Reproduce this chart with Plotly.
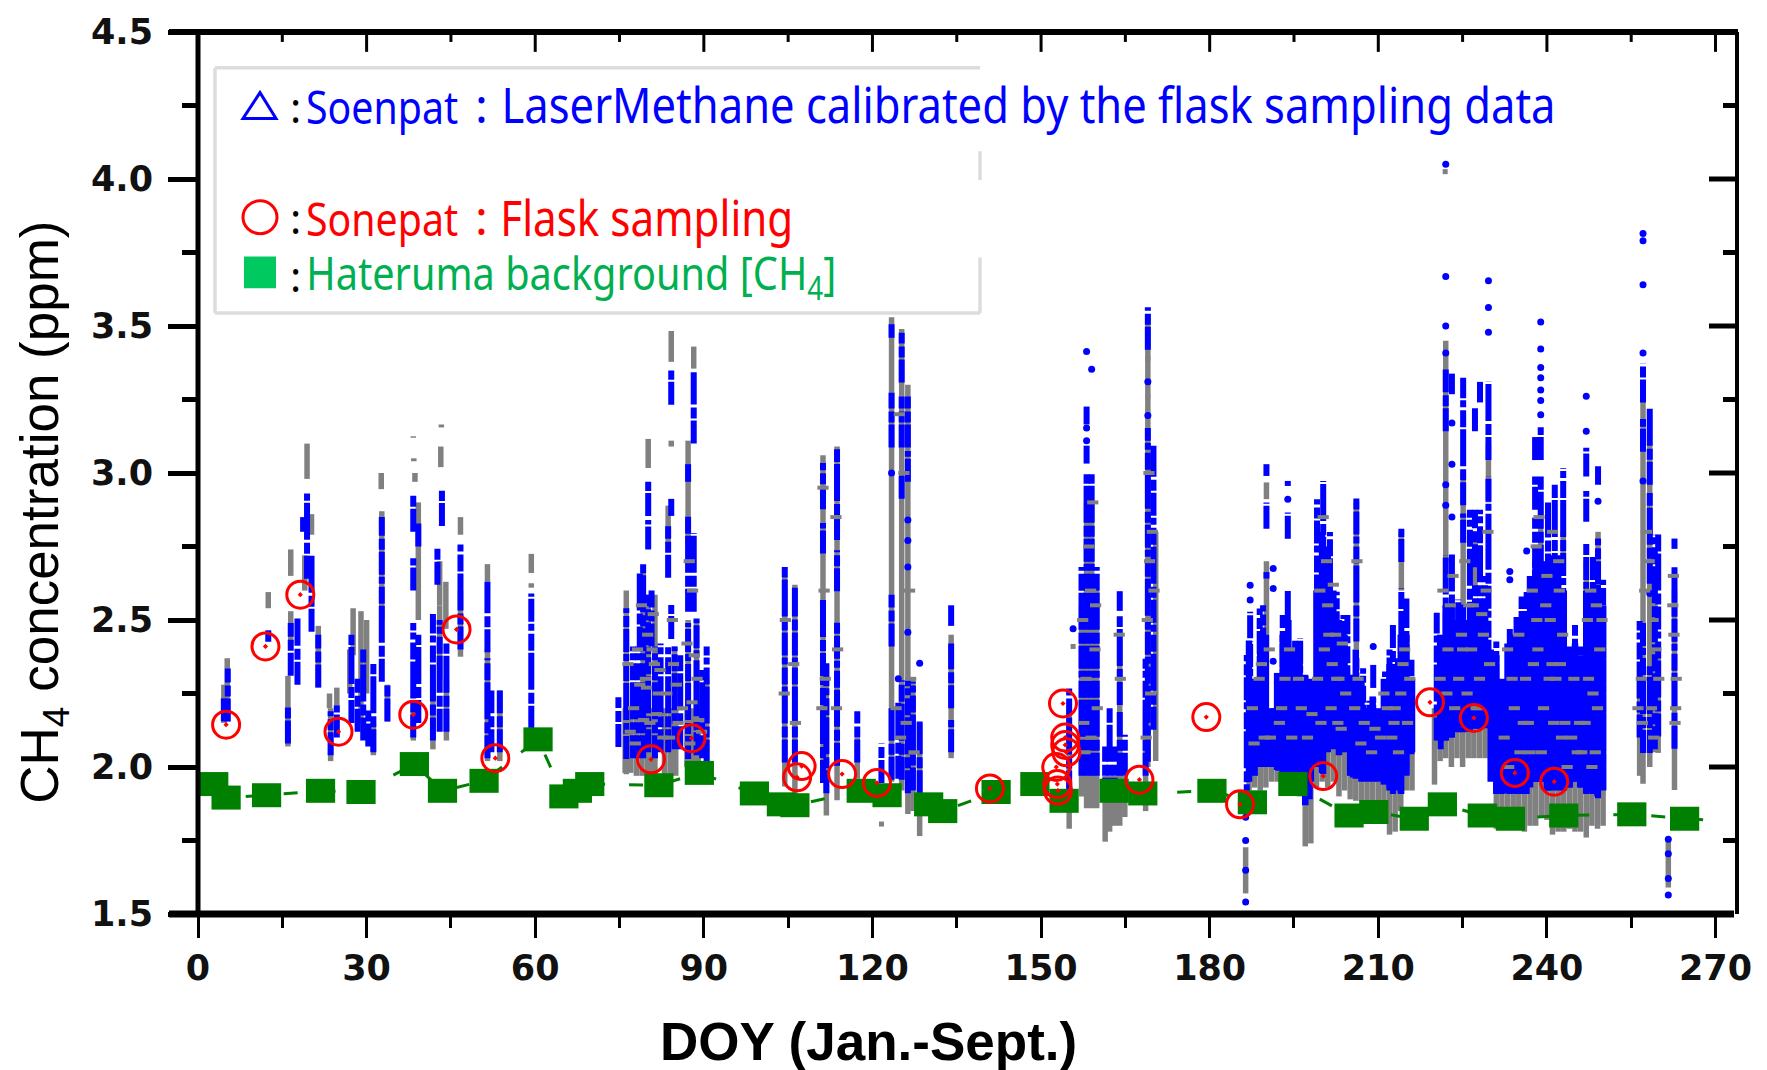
import plotly.graph_objects as go

# ---------- values ----------
x_major = [0, 30, 60, 90, 120, 150, 180, 210, 240, 270]
x_minor = [15, 45, 75, 105, 135, 165, 195, 225, 255]
y_major = [1.5, 2.0, 2.5, 3.0, 3.5, 4.0, 4.5]
y_labels = ["1.5", "2.0", "2.5", "3.0", "3.5", "4.0", "4.5"]
y_minor = [1.75, 2.25, 2.75, 3.25, 3.75, 4.25]

hateruma_day = [2.8, 5, 12.2, 21.8, 29, 38.5, 43.5, 50.9, 60.5, 65.1, 67.5, 69.7, 82, 89.2, 99, 103.8, 106.2, 118, 122.6,
                130, 132.5, 142, 148.9, 154.1, 163, 168.1, 180.4, 187.6, 194.8, 204.8, 209.2, 216.4, 221.4, 228.5,
                233.5, 243, 255.1, 264.5]
hateruma_ch4 = [1.942, 1.896, 1.904, 1.919, 1.915, 2.01, 1.919, 1.953, 2.094, 1.90, 1.919, 1.942, 1.938, 1.98, 1.91, 1.873,
                1.87, 1.919, 1.904, 1.873, 1.85, 1.915, 1.942, 1.885, 1.919, 1.91, 1.919, 1.88, 1.942, 1.835, 1.847,
                1.824, 1.873, 1.835, 1.824, 1.835, 1.839, 1.824]
hateruma_end_day = [270.7]
hateruma_end_ch4 = [1.816]

flask_day = [5, 12, 18.2, 25, 38.3, 46, 52.9, 80.6, 87.8, 106.6, 107.4, 114.6, 120.8, 140.9, 153.9, 154.3, 154.3, 154.5,
             152.7, 152.9, 153, 167.5, 179.4, 185.4, 200.2, 219.2, 227, 234.3, 241.3]
flask_ch4 = [2.144, 2.41, 2.586, 2.12, 2.178, 2.468, 2.03, 2.026, 2.098, 1.965, 2.003, 1.976, 1.946, 1.927, 2.216, 2.10,
             2.075, 2.05, 2.0, 1.942, 1.92, 1.957, 2.17, 1.873, 1.969, 2.22, 2.167, 1.98, 1.95]

# LaserMethane columns: (day, low, high)
blue_columns = [
    (5.3, 2.155, 2.335), (4.6, 2.155, 2.24), (12.5, 2.426, 2.465), (16, 2.08, 2.21), (16.5, 2.31, 2.49), (17.7, 2.28, 2.505),
    (19.4, 2.64, 2.93), (18.7, 2.80, 2.85), (20.2, 2.46, 2.72), (21.4, 2.27, 2.45), (23.6, 2.04, 2.19), (24.7, 2.10, 2.21),
    (27.3, 2.15, 2.45), (28.4, 2.12, 2.30), (29.4, 2.09, 2.40), (30.3, 2.07, 2.20), (31.2, 2.05, 2.35),
    (32.7, 2.29, 2.85), (33.7, 2.155, 2.28), (38.3, 2.80, 2.93), (38.3, 2.6, 2.71), (38.3, 2.10, 2.49), (39.2, 2.75, 2.83),
    (39.2, 2.15, 2.45), (41.8, 2.09, 2.52), (43, 2.12, 2.50), (44.2, 2.12, 2.42), (42.6, 2.62, 2.75), (43.4, 2.82, 2.94),
    (46.7, 2.40, 2.76), (51.5, 2.39, 2.63), (51.5, 2.03, 2.37), (52.2, 2.05, 2.26), (53.7, 2.05, 2.26), (59.3, 2.13, 2.59),
    (74.8, 2.068, 2.237), (76.2, 2.027, 2.54), (77.4, 2.03, 2.41), (78.3, 2.03, 2.41), (78.6, 2.4, 2.66), (79.2, 2.03, 2.69),
    (80.1, 2.854, 2.97), (80.1, 2.74, 2.84), (80.1, 2.05, 2.586), (80.7, 2.41, 2.6), (81.3, 2.03, 2.41), (82.3, 2.05, 2.42),
    (83.65, 2.644, 2.819), (83.65, 2.05, 2.41), (84.2, 3.232, 3.349), (84.2, 2.854, 2.912), (84.2, 2.435, 2.551), (84.8, 2.06, 2.41),
    (85.8, 2.06, 2.38), (87.2, 2.97, 3.03), (87.2, 2.528, 2.854), (87.2, 2.027, 2.49), (88.2, 3.10, 3.343), (88.2, 2.528, 2.796),
    (88.7, 2.04, 2.505), (89.7, 2.03, 2.33), (90.5, 2.015, 2.41),
    (104.4, 2.015, 2.68), (106.2, 2.015, 2.61), (111.2, 2.877, 3.034), (111.2, 2.726, 2.83), (111.2, 1.946, 2.574),
    (111.8, 1.911, 2.353), (113.7, 2.772, 3.081), (113.7, 2.598, 2.737), (113.7, 2.004, 2.493), (117.3, 2.015, 2.19),
    (121.6, 1.946, 2.08), (123.4, 3.46, 3.506), (123.4, 3.087, 3.273), (123.4, 2.41, 2.586), (123.4, 1.957, 2.2),
    (124.6, 1.96, 2.22), (125.2, 3.308, 3.477), (125.2, 3.087, 3.26), (125.2, 2.912, 3.0), (125.2, 1.957, 2.295), (126.3, 2.97, 3.075),
    (126.3, 3.087, 3.26), (126.3, 1.911, 2.295), (127.2, 1.92, 2.29), (128.4, 1.911, 2.155), (134, 2.48, 2.55), (134, 2.2, 2.42), (134, 2.05, 2.16),
    (155, 1.91, 2.27), (157.2, 1.97, 2.68), (158.1, 3.165, 3.226), (158.1, 3.032, 3.093), (158.1, 1.97, 2.996), (159, 1.97, 2.996),
    (159.9, 1.97, 2.68), (161.4, 1.885, 2.07), (162.2, 1.885, 2.2), (163.1, 1.885, 2.07), (164, 2.531, 2.598), (164, 2.211, 2.513),
    (164, 1.97, 2.187), (164.9, 1.97, 2.11), (169, 3.419, 3.564), (169, 2.018, 3.153), (170, 2.127, 3.093), (168.6, 1.97, 2.368),
    (186.6, 1.863, 2.381), (187.2, 2.438, 2.528), (187.2, 1.976, 2.427), (188, 2.03, 2.2), (188.9, 2.02, 2.539), (189.5, 2.032, 2.55),
    (190.1, 2.99, 3.03), (190.1, 2.81, 2.9), (190.1, 2.641, 2.663), (191.3, 2.0, 2.2), (192.2, 1.987, 2.314), (193, 1.976, 2.517),
    (193.9, 2.956, 2.973), (193.9, 2.776, 2.866), (193.9, 1.976, 2.6), (195.2, 1.987, 2.43), (196.1, 1.987, 2.438), (197, 1.874, 2.314),
    (197.8, 1.89, 2.2), (199.1, 2.032, 2.911), (200.2, 1.976, 2.973), (201.4, 2.088, 2.799), (202.6, 2.088, 2.596), (203.8, 2.054, 2.517),
    (204.5, 2.088, 2.517), (205.5, 1.964, 2.314), (206.1, 2.427, 2.923), (206.1, 1.964, 2.37), (207.3, 1.953, 2.336), (208.4, 1.953, 2.225),
    (209.1, 2.269, 2.348), (209.1, 1.953, 2.235), (210, 1.98, 2.17), (211.2, 1.942, 2.325), (212, 1.93, 2.40), (212.6, 1.908, 2.483),
    (213.5, 1.93, 2.37), (214.1, 2.697, 2.81), (214.1, 1.908, 2.607), (215, 1.976, 2.573), (215.9, 2.043, 2.365),
    (220.4, 2.09, 2.525), (221.1, 2.06, 2.40), (222, 3.142, 3.352), (222, 2.09, 2.72), (223.1, 3.268, 3.338), (223.1, 2.10, 2.73),
    (224.2, 2.118, 2.57), (225.1, 2.89, 3.324), (225.1, 2.763, 2.862), (225.1, 2.118, 2.553), (226.3, 2.12, 2.875), (227.2, 3.142, 3.226),
    (227.2, 2.679, 2.875), (227.2, 2.132, 2.623), (228.1, 3.24, 3.31), (228.1, 2.132, 2.875), (229, 2.132, 2.65), (229.6, 3.044, 3.31),
    (229.6, 2.174, 2.988), (231, 1.908, 2.427), (231.9, 1.908, 2.29), (233.4, 1.908, 2.469), (234.6, 1.908, 2.51), (235.5, 1.908, 2.58),
    (236.4, 1.908, 2.595), (237.9, 3.044, 3.128), (237.9, 2.875, 2.988), (237.9, 1.95, 2.848), (238.9, 3.044, 3.156), (238.9, 1.95, 2.988),
    (240.2, 1.92, 2.90), (241.4, 1.922, 2.96), (242.9, 1.922, 3.016), (244.1, 1.93, 2.41), (245, 1.95, 2.483), (245.9, 1.93, 2.41),
    (247, 2.988, 3.086), (247, 2.834, 2.939), (247, 1.908, 2.763), (248.2, 1.908, 2.72), (249.1, 2.96, 3.023), (249.1, 1.894, 2.777),
    (250, 1.922, 2.637), (256.5, 2.10, 2.497), (257.1, 3.24, 3.373), (257.1, 3.072, 3.184), (257.1, 2.048, 2.497), (258.3, 2.96, 3.219),
    (258.3, 2.623, 2.932), (258.3, 2.048, 2.343), (259.2, 2.06, 2.79), (259.8, 2.104, 2.791), (262.7, 2.742, 2.777), (262.7, 2.062, 2.679),
]
blue_dense_day = [187, 188, 189, 190, 191, 192, 193, 194, 195, 196, 197, 198, 199, 200, 201, 202, 203, 204, 205, 206, 207, 208, 209, 210, 211, 212,
                  213, 214, 215, 216, 221, 222, 223, 224, 225, 226, 227, 228, 229, 230, 231, 232, 233, 234, 235, 236, 237, 238, 239, 240,
                  241, 242, 243, 244, 245, 246, 247, 248, 249, 250]
blue_dense_high = [2.43, 2.3, 2.45, 2.45, 2.2, 2.32, 2.45, 2.5, 2.4, 2.4, 2.31, 2.3, 2.6, 2.8, 2.75, 2.6, 2.5, 2.45, 2.3, 2.4, 2.3, 2.2, 2.24, 2.2, 2.3, 2.35,
                   2.33, 2.45, 2.45, 2.3, 2.45, 2.55, 2.55, 2.5, 2.5, 2.5, 2.5, 2.5, 2.55, 2.4, 2.38, 2.3, 2.42, 2.45, 2.5, 2.5, 2.65, 2.7, 2.7, 2.7,
                   2.72, 2.72, 2.6, 2.4, 2.42, 2.38, 2.6, 2.6, 2.62, 2.55]
blue_dense_low = [1.95, 1.97, 2.0, 2.0, 2.0, 1.99, 1.98, 1.98, 1.95, 1.92, 1.87, 1.95, 2.0, 1.98, 2.05, 2.06, 2.04, 2.05, 1.97, 1.96, 1.95, 1.95, 1.95, 1.95, 1.94, 1.92,
                  1.92, 1.91, 1.97, 2.05, 2.09, 2.09, 2.1, 2.12, 2.12, 2.12, 2.13, 2.13, 2.17, 1.95, 1.91, 1.91, 1.91, 1.91, 1.91, 1.91, 1.93, 1.95, 1.95, 1.92,
                  1.92, 1.92, 1.92, 1.93, 1.95, 1.93, 1.91, 1.91, 1.9, 1.92]

blue_point_day = [123.4, 124.6, 126.3, 126.3, 126.3, 126.3, 128.4, 155.7, 158.1, 158.1, 158.1, 159, 169, 169, 186.4, 186.4, 186.4, 186.4,
                  187.2, 187.2, 191.3, 191.3, 191.3, 193.9, 209.1, 222, 222, 222, 222, 222, 222, 223.1, 223.1, 223.1, 229.6, 229.6, 229.6,
                  233.4, 233.4, 236.4, 238.9, 238.9, 238.9, 238.9, 238.9, 238.9, 238.9, 247, 247, 249.1, 257.1, 257.1, 257.1, 257.1, 257.1,
                  261.6, 261.6, 261.6, 261.6, 258.3]
blue_point_ch4 = [3.0, 2.3, 2.84, 2.77, 2.68, 2.458, 2.353, 2.47, 3.413, 3.153, 3.11, 3.353, 3.31, 3.196, 1.541, 1.649, 1.75, 1.829,
                  2.618, 2.568, 2.675, 2.607, 2.36, 2.911, 2.41, 4.05, 3.668, 3.5, 3.408, 2.96, 2.89, 3.17, 3.03, 2.85, 3.654, 3.563, 3.479,
                  2.665, 2.637, 2.735, 3.514, 3.422, 3.359, 3.324, 3.282, 3.247, 3.198, 3.261, 3.142, 2.904, 3.815, 3.79, 3.64, 3.408, 2.973,
                  1.754, 1.705, 1.621, 1.565, 2.59]

# Reference CH4 columns drawn in grey: (day, low, high)
grey_columns = [
    (5.2, 2.155, 2.37), (4.6, 2.15, 2.28), (12.5, 2.54, 2.595), (16, 2.07, 2.31), (16.5, 2.65, 2.74), (16.5, 2.42, 2.53),
    (19.4, 2.98, 3.1), (20.2, 2.79, 2.86), (19, 2.6, 2.72), (21.4, 2.27, 2.48), (23.6, 2.02, 2.2), (24.7, 2.21, 2.27), (23.4, 2.2, 2.25),
    (27, 2.25, 2.4), (27.6, 2.38, 2.54), (29, 2.15, 2.53), (30, 2.25, 2.5), (31.2, 2.04, 2.15), (32.7, 2.5, 2.87), (32.6, 2.945, 3.0),
    (33.7, 2.155, 2.28), (38.3, 3.12, 3.125), (38.4, 3.04, 3.05), (38.6, 2.97, 3.0), (38.3, 2.09, 2.2), (39.2, 2.5, 2.9),
    (41.8, 2.06, 2.3), (43, 2.3, 2.55), (43.2, 3.02, 3.09), (43.3, 3.155, 3.165), (44.2, 2.09, 2.3), (43, 2.55, 2.7),
    (46.7, 2.79, 2.85), (46.7, 2.375, 2.6), (44.1, 2.47, 2.63), (51.5, 2.63, 2.69), (51.5, 2.02, 2.4), (53.7, 2.02, 2.26), (59.3, 2.66, 2.725), (59.3, 2.61, 2.625),
    (76.2, 1.975, 2.60), (79.2, 2.03, 2.66), (80.1, 3.017, 3.116), (80.1, 1.97, 2.586), (81.3, 1.97, 2.586), (83.65, 2.76, 2.889),
    (84.2, 3.378, 3.483), (84.2, 3.09, 3.11), (84.8, 1.975, 2.41), (87.2, 2.76, 3.11), (87.2, 2.02, 2.5), (88.2, 3.355, 3.43), (88.7, 2.0, 2.5), (90.5, 2.01, 2.3),
    (104.4, 1.934, 2.65), (106.2, 1.9, 2.62), (111.2, 1.95, 3.06), (111.8, 1.835, 2.35), (113.7, 1.887, 3.09), (117.3, 1.96, 2.1),
    (123.4, 1.95, 3.53), (125.2, 1.92, 3.49), (126.3, 1.84, 3.3), (127.2, 1.85, 2.3), (128.4, 1.765, 2.15), (134, 2.03, 2.45),
    (155, 1.79, 2.22), (157.2, 1.9, 2.55), (158.1, 1.86, 2.9), (159, 1.86, 2.9), (159.9, 1.86, 2.6), (161.4, 1.746, 1.97), (162.2, 1.78, 1.97),
    (163.1, 1.80, 1.97), (164, 1.80, 2.45), (164.9, 1.83, 1.97), (169, 2.0, 3.54), (168.6, 1.85, 2.2), (170.4, 2.02, 2.8),
    (186.4, 1.57, 1.727), (190.1, 2.911, 2.968), (190.1, 2.4, 2.7), (206.1, 2.4, 2.9), (214.1, 2.6, 2.8), (222, 2.7, 3.45), (225.1, 2.55, 3.0), (227.2, 2.6, 2.8),
    (229.6, 2.9, 3.1), (237.9, 2.5, 2.7), (238.9, 2.7, 2.9), (241.4, 2.5, 2.6), (242.9, 2.7, 2.8), (247, 2.5, 2.7), (249.1, 2.6, 2.8),
    (256.5, 1.97, 2.3), (257.1, 1.943, 3.3), (258.3, 2.0, 3.1), (259.2, 2.05, 2.6), (259.8, 2.048, 2.4), (262.7, 1.922, 2.6), (261.6, 1.59, 1.76),
]
grey_dense_day = [187, 188, 189, 190, 191, 192, 193, 194, 195, 196, 197, 198, 199, 200, 201, 202, 203, 204, 205, 206, 207, 208, 209, 210, 211, 212, 213, 214, 215, 216,
                  220, 221, 222, 223, 224, 225, 226, 227, 228, 229, 231, 232, 233, 234, 235, 236, 237, 238, 239, 240, 241, 242, 243, 244, 245, 246, 247, 248, 249, 250,
                  76, 77, 78, 79, 80, 81, 83, 84, 85, 87, 88, 89]
grey_dense_low = [1.92, 1.93, 1.92, 1.93, 1.95, 1.95, 1.95, 1.93, 1.93, 1.9, 1.73, 1.74, 1.93, 1.95, 1.93, 1.95, 1.9, 1.92, 1.89, 1.885, 1.885, 1.885, 1.885, 1.885, 1.885, 1.77, 1.78, 1.85, 1.92, 1.92,
                  1.94, 2.02, 2.03, 2.0, 2.03, 2.0, 2.03, 2.03, 2.03, 2.03, 1.79, 1.85, 1.82, 1.80, 1.83, 1.78, 1.80, 1.80, 1.83, 1.82, 1.77, 1.78, 1.78, 1.79, 1.78, 1.78, 1.76, 1.80, 1.79, 1.80,
                  1.98, 1.98, 1.97, 1.97, 1.97, 1.97, 1.97, 1.97, 1.97, 2.0, 2.0, 2.0]
grey_dense_high = [2.2, 2.1, 2.2, 2.2, 2.1, 2.1, 2.1, 2.1, 2.15, 2.1, 2.0, 2.0, 2.1, 2.1, 2.15, 2.1, 2.1, 2.1, 2.1, 2.1, 2.1, 2.1, 2.1, 2.1, 2.1, 2.1, 2.1, 2.1, 2.1, 2.1,
                   2.2, 2.2, 2.2, 2.2, 2.2, 2.2, 2.2, 2.2, 2.2, 2.2, 2.1, 2.0, 2.1, 2.1, 2.1, 2.1, 2.1, 2.1, 2.1, 2.1, 2.1, 2.1, 2.1, 2.1, 2.1, 2.1, 2.1, 2.1, 2.1, 2.1,
                   2.2, 2.2, 2.2, 2.2, 2.2, 2.2, 2.2, 2.2, 2.2, 2.2, 2.2, 2.2]
grey_point_day = [121.6, 221.9, 155.7, 169, 169, 169]
grey_point_ch4 = [1.806, 4.025, 2.41, 3.39, 3.26, 3.12]

# Grey flecks seen through the dense blue areas
fleck_day = [76.5, 77.5, 78.2, 78.9, 79.6, 80.4, 81.2, 81.9, 82.7, 76.9, 78.6, 80, 81.6, 83.4, 84.6, 85.4, 87, 87.9, 88.8, 89.6, 77.8, 79.3, 80.8, 82.2, 83.9, 85.1, 86.2,
             87.5, 88.3, 89.1, 79.8, 81, 84.4, 87.4, 88, 104.5, 104.3, 106, 106.3, 111.4, 111.6, 111, 113.5, 113.8, 113.6, 111.2, 124.8, 125.6, 126.6, 124.2, 125, 126, 127.4, 126.8,
             157.4, 158, 158.8, 159.6, 160, 157.6, 158.5, 159.2, 157.8, 158.9, 159.7, 169.2, 169.8, 168.9, 169.5, 170.1, 168.7, 169.3, 164.1, 163.9,
             187.6, 188.8, 189.7, 190.6, 192.4, 193.4, 194.6, 196.3, 199.6, 200.4, 201, 201.8, 202.4, 203, 203.6, 204.2, 199.2, 200.8, 201.6, 202.8, 203.4, 199.8, 200.2, 201.2, 202, 202.6,
             198.2, 197.4, 195.8, 194.2, 192.8, 190.8, 189.2, 187.9, 205.8, 206.4, 207.5, 208.8, 210.4, 211.6, 212.8, 213.6, 214.4, 215.2, 206.9, 209.4, 211, 212.4, 214, 215.6, 206.2, 213, 214.7,
             221.5, 222.4, 223.6, 224.8, 225.8, 226.9, 228, 229.2, 221, 222.8, 224.3, 225.4, 226.6, 227.6, 228.7, 229.8, 222.2, 223.3, 225, 226.1, 227.4, 228.4, 229.5,
             233, 234.2, 235.2, 236.2, 237.4, 238.4, 239.4, 240.6, 241.6, 242.6, 243.6, 244.8, 245.8, 247.2, 248.2, 249.4, 232.4, 233.8, 235.8, 237, 238.1, 239.8, 240.9, 242.1, 243.2, 246.2, 247.8, 249,
             233.2, 235, 236.7, 238.6, 240, 241.2, 242.8, 244.4, 245.4, 246.8, 248.6, 249.8, 237.6, 239, 241, 242.4, 247.4, 248.8, 238.2, 240.4, 242.2, 248,
             256.8, 257.4, 258.6, 259.4, 256.2, 257.7, 258.9, 259.9, 257, 258.2, 259, 262.4, 263, 262.8, 262.6, 262.9, 262.5]
fleck_ch4 = [2.35, 2.2, 2.4, 2.55, 2.3, 2.15, 2.35, 2.25, 2.1, 2.12, 2.28, 2.45, 2.18, 2.25, 2.35, 2.15, 2.42, 2.22, 2.3, 2.12, 2.08, 2.16, 2.4, 2.33, 2.1, 2.28, 2.2,
             2.08, 2.38, 2.16, 2.27, 2.52, 2.5, 2.7, 2.6, 2.5, 2.25, 2.35, 2.15, 2.6, 2.3, 2.2, 2.85, 2.4, 2.2, 2.95, 3.2, 3.0, 2.6, 2.2, 2.1, 2.15, 2.05, 2.3,
             2.5, 2.3, 2.6, 2.4, 2.2, 2.15, 2.75, 2.9, 2.05, 2.1, 2.55, 3.0, 2.8, 2.5, 2.25, 2.6, 2.1, 2.7, 2.3, 2.45,
             2.2, 2.3, 2.1, 2.4, 2.15, 2.3, 2.1, 2.2, 2.6, 2.4, 2.55, 2.35, 2.45, 2.3, 2.42, 2.25, 2.3, 2.7, 2.2, 2.15, 2.13, 2.15, 2.85, 2.45, 2.62, 2.3,
             2.18, 2.1, 2.3, 2.4, 2.2, 2.1, 2.35, 2.08, 2.2, 2.3, 2.15, 2.05, 2.1, 2.2, 2.15, 2.05, 2.35, 2.15, 2.08, 2.13, 2.25, 2.1, 2.25, 2.3, 2.7, 2.2, 2.4,
             2.6, 2.4, 2.2, 2.45, 2.25, 2.55, 2.3, 2.6, 2.3, 2.55, 2.3, 2.7, 2.4, 2.2, 2.45, 2.35, 2.25, 2.65, 2.4, 2.55, 2.2, 2.52, 2.8,
             2.4, 2.2, 2.05, 2.3, 2.6, 2.4, 2.2, 2.5, 2.3, 2.1, 2.0, 2.3, 2.15, 2.5, 2.25, 2.4, 2.1, 2.3, 2.15, 2.05, 2.75, 2.55, 2.35, 2.7, 2.15, 2.05, 2.6, 2.2,
             2.0, 2.45, 2.15, 2.85, 2.65, 2.15, 2.45, 2.1, 2.05, 2.15, 2.05, 2.5, 2.35, 2.05, 2.8, 2.35, 2.3, 2.55, 2.5, 2.3, 2.6, 2.0,
             2.3, 2.6, 2.2, 2.4, 2.2, 2.8, 2.5, 2.3, 2.15, 2.7, 2.1, 2.55, 2.3, 2.15, 2.45, 2.2, 2.65]

# ---------- text ----------
x_title = "DOY (Jan.-Sept.)"
y_title = "CH<sub>4</sub> concentration (ppm)"
legend_rows = ["Soenpat", "LaserMethane calibrated by the flask sampling data", "Sonepat", "Flask sampling",
               "Hateruma background [CH<sub>4</sub>]"]

# ---------- layout helpers (pixels of the page to paper fractions) ----------
L, R, T, B = 198, 1738, 26, 914
W, H = 1767, 1070
px = lambda v: (v - L) / (R - L)
py = lambda v: (B - v) / (B - T)


def columns_to_path(cols):
    xs, ys = [], []
    for day, low, high in cols:
        xs += [day, day, None]
        ys += [low, high, None]
    return xs, ys


gx, gy = columns_to_path(grey_columns + list(zip(grey_dense_day, grey_dense_low, grey_dense_high)))
bx, by = columns_to_path(blue_columns)
dx, dy = columns_to_path(list(zip(blue_dense_day, blue_dense_low, blue_dense_high)))

fig = go.Figure()
fig.add_trace(go.Scatter(x=gx, y=gy, mode="lines", line=dict(color="#808080", width=5.5), hoverinfo="skip", showlegend=False))
fig.add_trace(go.Scatter(x=grey_point_day, y=grey_point_ch4, mode="markers", marker=dict(color="#808080", symbol="square", size=5), showlegend=False))
fig.add_trace(go.Scatter(x=dx, y=dy, mode="lines", line=dict(color="#0000FF", width=6.5), hoverinfo="skip", showlegend=False))
fig.add_trace(go.Scatter(x=bx, y=by, mode="lines", line=dict(color="#0000FF", width=6, dash="23px,2px,11px,3px,37px,2px,17px,3px,7px,2px"), hoverinfo="skip", showlegend=False))
fig.add_trace(go.Scatter(x=blue_point_day, y=blue_point_ch4, mode="markers", marker=dict(color="#0000FF", symbol="circle", size=7), showlegend=False))
fig.add_trace(go.Scatter(x=fleck_day, y=fleck_ch4, mode="markers",
                         marker=dict(symbol="line-ew", size=8, color="#808080", line=dict(color="#808080", width=4)), showlegend=False))
fig.add_trace(go.Scatter(x=hateruma_day + hateruma_end_day, y=hateruma_ch4 + hateruma_end_ch4, mode="lines",
                         line=dict(color="#008000", width=3, dash="14px,24px"), showlegend=False))
fig.add_trace(go.Scatter(x=hateruma_day, y=hateruma_ch4, mode="markers",
                         marker=dict(color="#008000", size=1, symbol="square"),
                         error_x=dict(type="constant", value=2.6, thickness=24, width=0, color="#008000"), showlegend=False))
fig.add_trace(go.Scatter(x=flask_day, y=flask_ch4, mode="markers",
                         marker=dict(symbol="circle-open-dot", size=27, color="#FF0000", line=dict(color="#FF0000", width=3)),
                         showlegend=False))

shapes = []
grey_box = "#DCDCDC"
shapes.append(dict(type="rect", xref="paper", yref="paper", x0=px(215), x1=px(980), y0=py(309), y1=py(62), fillcolor="white", line=dict(width=0)))
for a, b, c, d in [(215, 62, 980, 62), (215, 62, 215, 309), (215, 309, 980, 309), (980, 146, 980, 175), (980, 253, 980, 309)]:
    shapes.append(dict(type="line", xref="paper", yref="paper", x0=px(a), x1=px(c), y0=py(b), y1=py(d), line=dict(color=grey_box, width=3.5)))
shapes.append(dict(type="path", xref="paper", yref="paper",
                   path=f"M {px(243)} {py(113)} L {px(276)} {py(113)} L {px(260)} {py(87)} Z", line=dict(color="#0000FF", width=3), fillcolor="rgba(0,0,0,0)"))
shapes.append(dict(type="circle", xref="paper", yref="paper", x0=px(243), x1=px(277), y0=py(229), y1=py(196), line=dict(color="#FF0000", width=3)))
shapes.append(dict(type="rect", xref="paper", yref="paper", x0=px(244), x1=px(276), y0=py(284), y1=py(252), fillcolor="#00C960", line=dict(width=0)))
for a, b, c, d, w in [(169, T, 1738, T, 6), (198, T, 198, 914, 5), (169, 914, 1734, 914, 7), (1737, T, 1737, 914, 4)]:
    shapes.append(dict(type="line", xref="paper", yref="paper", x0=px(a), x1=px(c), y0=py(b), y1=py(d), line=dict(color="black", width=w)))
for v in x_major[1:]:
    shapes.append(dict(type="line", xref="x", yref="paper", x0=v, x1=v, y0=1, y1=py(T + 20), line=dict(color="black", width=3)))
for v in x_minor:
    shapes.append(dict(type="line", xref="x", yref="paper", x0=v, x1=v, y0=1, y1=py(T + 10), line=dict(color="black", width=3)))
for v in y_major[1:]:
    shapes.append(dict(type="line", xref="paper", yref="y", x0=1, x1=px(R - 29), y0=v, y1=v, line=dict(color="black", width=5)))
for v in y_minor:
    shapes.append(dict(type="line", xref="paper", yref="y", x0=1, x1=px(R - 15), y0=v, y1=v, line=dict(color="black", width=5)))


def label(text, x, y, color, size, family="Noto Sans", **kw):
    return dict(text=text, xref="paper", yref="paper", x=px(x), y=py(y), xanchor="center", yanchor="middle", showarrow=False,
                font=dict(color=color, size=size, family=family, **kw))


annotations = [
    label(":", 295, 101, "black", 42), label(legend_rows[0], 382, 101, "#0000FF", 46),
    label(":", 481, 99, "#0000FF", 48), label(legend_rows[1], 1028, 98.5, "#0000FF", 50),
    label(":", 295, 213, "black", 42), label(legend_rows[2], 382, 213, "#FF0000", 46),
    label(":", 481, 212, "#FF0000", 48), label(legend_rows[3], 647, 212, "#FF0000", 50),
    label(":", 295, 271, "black", 42), label(legend_rows[4], 571, 271, "#00B050", 46),
    label(x_title, 868, 1042, "black", 53, family="Liberation Sans", weight="bold"),
]
y_ann = label(y_title, 44, 510, "black", 53, family="Liberation Sans")
y_ann["textangle"] = -90
annotations.append(y_ann)

fig.update_layout(
    width=W, height=H, paper_bgcolor="white", plot_bgcolor="white",
    margin=dict(l=L, r=W - R, t=T, b=H - B, pad=0), showlegend=False, shapes=shapes, annotations=annotations,
    xaxis=dict(range=[0, 274], tickmode="array", tickvals=x_major, ticktext=[str(v) for v in x_major], ticks="outside", ticklen=23, tickwidth=3,
               tickcolor="black", showgrid=False, zeroline=False, showline=False, ticklabelstandoff=0,
               tickfont=dict(family="DejaVu Sans", size=35, color="#111111", weight="bold"),
               minor=dict(tickvals=x_minor, ticks="outside", ticklen=13, tickwidth=3, tickcolor="black", showgrid=False)),
    yaxis=dict(range=[1.5, 4.5], tickmode="array", tickvals=y_major, ticktext=y_labels, ticks="outside", ticklen=29, tickwidth=5,
               tickcolor="black", showgrid=False, zeroline=False, showline=False, ticklabelstandoff=8,
               tickfont=dict(family="DejaVu Sans", size=35, color="#111111", weight="bold"),
               minor=dict(tickvals=y_minor, ticks="outside", ticklen=15, tickwidth=5, tickcolor="black", showgrid=False)),
)
post = """
document.body.style.margin='0';document.body.style.overflow='hidden';
var widths={'Soenpat':152,'Sonepat':152,'LaserMethane calibrated by the flask sampling data':1054,'Flask sampling':293,
'Hateruma background [CH<sub>4</sub>]':530};
document.querySelectorAll('.annotation-text').forEach(function(el){
  var w=widths[el.getAttribute('data-unformatted')];
  if(w){el.setAttribute('textLength',w);el.setAttribute('lengthAdjust','spacingAndGlyphs');}
});
"""
fig.write_html("out.html", post_script=post, config={"displayModeBar": False})
